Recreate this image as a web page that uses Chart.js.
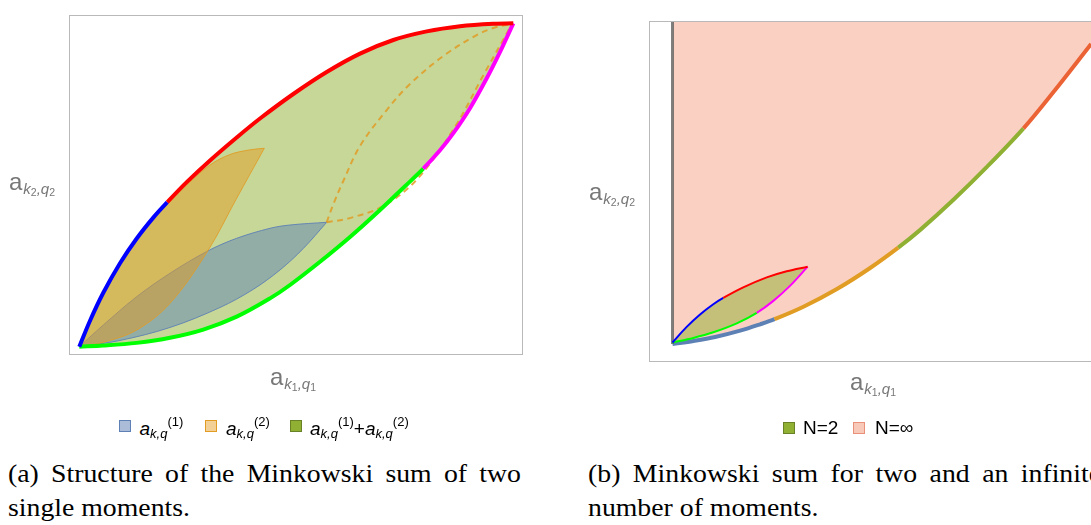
<!DOCTYPE html>
<html>
<head>
<meta charset="utf-8">
<title>Minkowski sums of moments</title>
<script src="https://cdn.jsdelivr.net/npm/chart.js@4.4.1/dist/chart.umd.min.js"></script>
<style>
  html, body { margin:0; padding:0; background:#fff; }
  #page { position:relative; width:1091px; height:525px; overflow:hidden; background:#fff; }
  canvas { position:absolute; }
  .lab { position:absolute; left:0; top:0; white-space:nowrap; line-height:1; }
  .mk { display:inline-block; width:0; height:0; vertical-align:baseline; }
  .axis { font-family:"Liberation Sans", Arial, sans-serif; font-size:24px; color:#777; }
  .axis .s1 { font-size:15px; font-style:italic; position:relative; top:4px; padding-left:1px; }
  .axis .s2 { font-size:10.5px; font-style:normal; position:relative; top:2.5px; }
  .leg { font-family:"Liberation Sans", Arial, sans-serif; font-size:19px; color:#000; }
  .leg .it { font-style:italic; }
  .leg .sb { font-size:13px; font-style:italic; position:relative; top:2.5px; }
  .leg .sp { font-size:13px; position:relative; top:-9px; }
  .sw { position:absolute; width:12px; height:12px; box-sizing:border-box; border:1px solid; }
  .cap { font-family:"Liberation Serif", "Times New Roman", serif; font-size:26px; color:#000; transform-origin:0 0; }
</style>
</head>
<body>
<div id="page">
  <canvas id="cA" width="545" height="400" style="left:0;top:0"></canvas>
  <canvas id="cB" width="560" height="400" style="left:560px;top:0"></canvas>

  <div class="lab axis" id="xa"><span class="mk"></span>a<span class="s1">k<span class="s2">1</span>,q<span class="s2">1</span></span></div>
  <div class="lab axis" id="ya"><span class="mk"></span>a<span class="s1">k<span class="s2">2</span>,q<span class="s2">2</span></span></div>
  <div class="lab axis" id="xb"><span class="mk"></span>a<span class="s1">k<span class="s2">1</span>,q<span class="s2">1</span></span></div>
  <div class="lab axis" id="yb"><span class="mk"></span>a<span class="s1">k<span class="s2">2</span>,q<span class="s2">2</span></span></div>

  <div class="sw" style="left:119px;top:419.5px;background:rgb(170,188,216);border-color:rgb(94,129,181)"></div>
  <div class="lab leg" id="l1"><span class="mk"></span><span class="it">a</span><span class="sb">k,q</span><span class="sp">(1)</span></div>
  <div class="sw" style="left:205px;top:419.5px;background:rgb(242,208,150);border-color:rgb(225,156,36)"></div>
  <div class="lab leg" id="l2"><span class="mk"></span><span class="it">a</span><span class="sb">k,q</span><span class="sp">(2)</span></div>
  <div class="sw" style="left:289.5px;top:419.5px;background:rgb(143,176,50);border-color:rgb(105,130,40)"></div>
  <div class="lab leg" id="l3"><span class="mk"></span><span class="it">a</span><span class="sb">k,q</span><span class="sp">(1)</span>+<span class="it">a</span><span class="sb">k,q</span><span class="sp">(2)</span></div>

  <div class="sw" style="left:783px;top:421.5px;background:rgb(143,176,50);border-color:rgb(105,130,40)"></div>
  <div class="lab leg" id="l4"><span class="mk"></span>N=2</div>
  <div class="sw" style="left:852.5px;top:421.5px;background:rgb(248,200,185);border-color:rgb(232,145,120)"></div>
  <div class="lab leg" id="l5"><span class="mk"></span>N=∞</div>

  <div class="lab cap" id="c1"><span class="mk"></span>(a) Structure of the Minkowski sum of two</div>
  <div class="lab cap" id="c2"><span class="mk"></span>single moments.</div>
  <div class="lab cap" id="c3"><span class="mk"></span>(b) Minkowski sum for two and an infinite</div>
  <div class="lab cap" id="c4"><span class="mk"></span>number of moments.</div>
</div>

<script>
// ---- Panel (a): single moments and their sum (units: tip of the sum at (1, 1)) ----
const sumUpperBlue = [[0,0],[0.0247,0.0804],[0.0553,0.1667],[0.0938,0.2582],[0.1323,0.3346],[0.1705,0.3992],[0.2028,0.4468]];
const sumUpperRed = [[0.2028,0.4468],[0.2475,0.5087],[0.3012,0.5758],[0.3627,0.6469],[0.4164,0.7056],[0.4931,0.7814],[0.5700,0.8494],[0.6468,0.9063],[0.7235,0.9484],[0.8005,0.9750],[0.8772,0.9910],[0.9539,0.9988],[1,1]];
const sumLowerGreen = [[0,0],[0.0553,0.0034],[0.1323,0.0118],[0.2090,0.0275],[0.2857,0.0529],[0.3627,0.0928],[0.4394,0.1494],[0.4855,0.1908],[0.5546,0.2625],[0.6237,0.3392],[0.6929,0.4227],[0.7505,0.4963],[0.7926,0.5507]];
const sumLowerMagenta = [[0.7926,0.5507],[0.8311,0.6073],[0.8618,0.6602],[0.9002,0.7375],[0.9387,0.8299],[0.9694,0.9116],[1,1]];

const a1Upper = [[0,0],[0.0553,0.0671],[0.1323,0.1546],[0.2090,0.2270],[0.2959,0.2959],[0.3627,0.3352],[0.4394,0.3661],[0.4855,0.3763],[0.5700,0.3847]];
const a1Lower = [[0,0],[0.0938,0.0192],[0.2090,0.0594],[0.3242,0.1212],[0.4002,0.1769],[0.4624,0.2372],[0.5161,0.3036],[0.5700,0.3847]];

const a2Upper = [[0,0],[0.0247,0.0764],[0.0553,0.1614],[0.0938,0.2526],[0.1323,0.3284],[0.1705,0.3933],[0.2028,0.4397],[0.2475,0.5000],[0.3012,0.5618],[0.3472,0.5943],[0.3933,0.6088],[0.4263,0.6135]];
const a2Lower = [[0,0],[0.0553,0.0136],[0.1323,0.0516],[0.2090,0.1342],[0.2959,0.2959],[0.3611,0.4552],[0.4263,0.6135]];

// a^(2) placed at the extreme point of a^(1) (dashed outline)
const a2ShiftUpper = [[0.5700,0.3847],[0.5846,0.4382],[0.6083,0.5124],[0.6468,0.6206],[0.7083,0.7319],[0.7620,0.8123],[0.8387,0.8989],[0.9157,0.9638],[0.9578,0.9870],[0.9970,0.9978]];
const a2ShiftLower = [[0.5700,0.3847],[0.6253,0.3983],[0.7023,0.4363],[0.7790,0.5189],[0.8659,0.6806],[0.9311,0.8398],[0.9970,0.9978]];

// ---- Panel (b): N = 2 and N = infinity ----
const n2UpperBlue = [[0,0.02],[0.105,0.222],[0.204,0.383],[0.302,0.516],[0.376,0.598]];
const n2UpperRed = [[0.376,0.598],[0.524,0.735],[0.698,0.865],[0.846,0.945],[1.001,1.004]];
const n2LowerGreen = [[0,0.02],[0.154,0.079],[0.302,0.152],[0.476,0.268],[0.624,0.404]];
const n2LowerMagenta = [[0.624,0.404],[0.747,0.560],[0.870,0.755],[1.001,1.004]];

const infBlue = [[0,0],[0.156,0.039],[0.316,0.090],[0.501,0.173],[0.650,0.256],[0.756,0.322]];
const infOrange = [[0.756,0.322],[0.970,0.484],[1.218,0.714],[1.464,0.987],[1.672,1.251]];
const infGreen = [[1.672,1.251],[1.835,1.482],[2.081,1.873],[2.329,2.300],[2.600,2.801]];
const infRed = [[2.600,2.801],[2.822,3.273],[3.101,3.897]];
const infEdge = [[0,0],[0,4.3]];

// ---- helpers ----
function pts(a) { return a.map(([x, y]) => ({x, y})); }
function join(...parts) { return parts.reduce((acc, p, i) => acc.concat(i ? p.slice(1) : p), []); }
// colour each piece of a joined curve, keeping one continuous spline
function pieceColors(parts, colors) {
  const starts = []; let n = 0;
  parts.forEach(p => { starts.push(n); n += p.length - 1; });
  return ctx => {
    let k = 0;
    starts.forEach((s, j) => { if (ctx.p0DataIndex >= s) k = j; });
    return colors[k];
  };
}
const NONE = 'rgba(0,0,0,0)';
function curve(data, o) {
  return Object.assign({
    data: pts(data), pointRadius: 0, pointHoverRadius: 0, pointHitRadius: 0,
    borderWidth: 0, borderColor: NONE, backgroundColor: NONE,
    fill: false, tension: 0.35, borderCapStyle: 'butt', borderJoinStyle: 'round'
  }, o);
}
function boundary(parts, colors, width, order) {
  return curve(join(...parts), {
    borderWidth: width, borderColor: colors[0], order,
    segment: {borderColor: pieceColors(parts, colors)}
  });
}

const frame = {
  id: 'frame',
  afterDraw(chart) {
    const {ctx, chartArea: a} = chart;
    ctx.save();
    ctx.strokeStyle = '#b9b9b9';
    ctx.lineWidth = 1;
    ctx.strokeRect(Math.round(a.left) - 0.5, Math.round(a.top) - 0.5,
                   Math.round(a.right - a.left) + 1, Math.round(a.bottom - a.top) + 1);
    ctx.restore();
  }
};

function baseOptions(pad, xr, yr) {
  return {
    responsive: false, animation: false, events: [],
    layout: {padding: pad},
    scales: {
      x: {type: 'linear', min: xr[0], max: xr[1], display: false},
      y: {type: 'linear', min: yr[0], max: yr[1], display: false}
    },
    plugins: {legend: {display: false}, tooltip: {enabled: false}}
  };
}

const BLUE = 'rgb(94,129,181)', ORANGE = 'rgb(225,156,36)', OLIVE = 'rgb(143,176,50)', VERMIL = 'rgb(235,98,53)';

new Chart(document.getElementById('cA'), {
  type: 'line',
  data: {datasets: [
    curve(join(sumUpperBlue, sumUpperRed), {fill: '+1', backgroundColor: 'rgba(143,176,50,0.5)', order: 20}),
    curve(join(sumLowerGreen, sumLowerMagenta), {order: 19}),
    curve(a1Upper, {fill: '+1', backgroundColor: 'rgba(94,129,181,0.5)', borderColor: 'rgba(94,129,181,0.9)', borderWidth: 1, order: 18}),
    curve(a1Lower, {borderColor: 'rgba(94,129,181,0.9)', borderWidth: 1, order: 17}),
    curve(a2Upper, {fill: '+1', backgroundColor: 'rgba(225,156,36,0.5)', borderColor: 'rgba(225,156,36,0.85)', borderWidth: 1, order: 16}),
    curve(a2Lower, {borderColor: 'rgba(225,156,36,0.85)', borderWidth: 1, order: 15}),
    curve(a2ShiftUpper, {borderColor: 'rgba(225,156,36,0.85)', borderWidth: 2, borderDash: [6, 4.5], order: 14}),
    curve(a2ShiftLower, {borderColor: 'rgba(225,156,36,0.85)', borderWidth: 2, borderDash: [6, 4.5], order: 13}),
    boundary([sumLowerGreen, sumLowerMagenta], ['#00ff00', '#ff00ff'], 4, 2),
    boundary([sumUpperBlue, sumUpperRed], ['#0000ff', '#ff0000'], 4, 1)
  ]},
  options: baseOptions({left: 70, top: 16, right: 23, bottom: 46}, [-0.0214, 1.0200], [-0.0226, 1.0226]),
  plugins: [frame]
});

new Chart(document.getElementById('cB'), {
  type: 'line',
  data: {datasets: [
    curve(join(infBlue, infOrange, infGreen, infRed), {fill: 'end', backgroundColor: 'rgba(235,98,53,0.3)', order: 30}),
    boundary([infBlue, infOrange, infGreen, infRed], [BLUE, ORANGE, OLIVE, VERMIL], 4, 25),
    curve(infEdge, {borderColor: 'rgba(95,95,95,0.8)', borderWidth: 3, tension: 0, order: 21}),
    curve(join(n2UpperBlue, n2UpperRed), {fill: '+1', backgroundColor: 'rgba(143,176,50,0.5)', order: 20}),
    curve(join(n2LowerGreen, n2LowerMagenta), {order: 19}),
    boundary([n2LowerGreen, n2LowerMagenta], ['#00ff00', '#ff00ff'], 2, 2),
    boundary([n2UpperBlue, n2UpperRed], ['#0000ff', '#ff0000'], 2, 1)
  ]},
  options: baseOptions({left: 90, top: 22, right: 18, bottom: 39}, [-0.1667, 3.1815], [-0.2208, 4.1818]),
  plugins: [frame]
});

// ---- text placement: x = left edge, base = baseline ----
function place(id, x, base) {
  const el = document.getElementById(id);
  el.style.left = '0px'; el.style.top = '0px';
  const m = el.querySelector('.mk').getBoundingClientRect();
  el.style.left = x + 'px';
  el.style.top = (base - m.top) + 'px';
  return el;
}
place('xa', 270, 384.5);
place('ya', 9, 189.5);
place('xb', 850, 389.5);
place('yb', 589, 199.5);
place('l1', 139.5, 435);
place('l2', 226, 435);
place('l3', 310, 435);
place('l4', 803, 434);
place('l5', 875, 434);

// captions: serif, set to the paragraph measure; first lines justified
const c2w = document.getElementById('c2').getBoundingClientRect().width;
const sx = 182 / c2w;
const lineW = 513;
['c1', 'c3'].forEach(id => {
  const el = document.getElementById(id);
  const w = el.getBoundingClientRect().width;
  const n = el.textContent.trim().split(' ').length - 1;
  el.style.wordSpacing = ((lineW / sx - w) / n) + 'px';
});
place('c1', 8, 482); place('c2', 8, 515.5);
place('c3', 588, 482); place('c4', 588, 515.5);
['c1', 'c2', 'c3', 'c4'].forEach(id => { document.getElementById(id).style.transform = 'scaleX(' + sx + ')'; });
</script>
</body>
</html>
